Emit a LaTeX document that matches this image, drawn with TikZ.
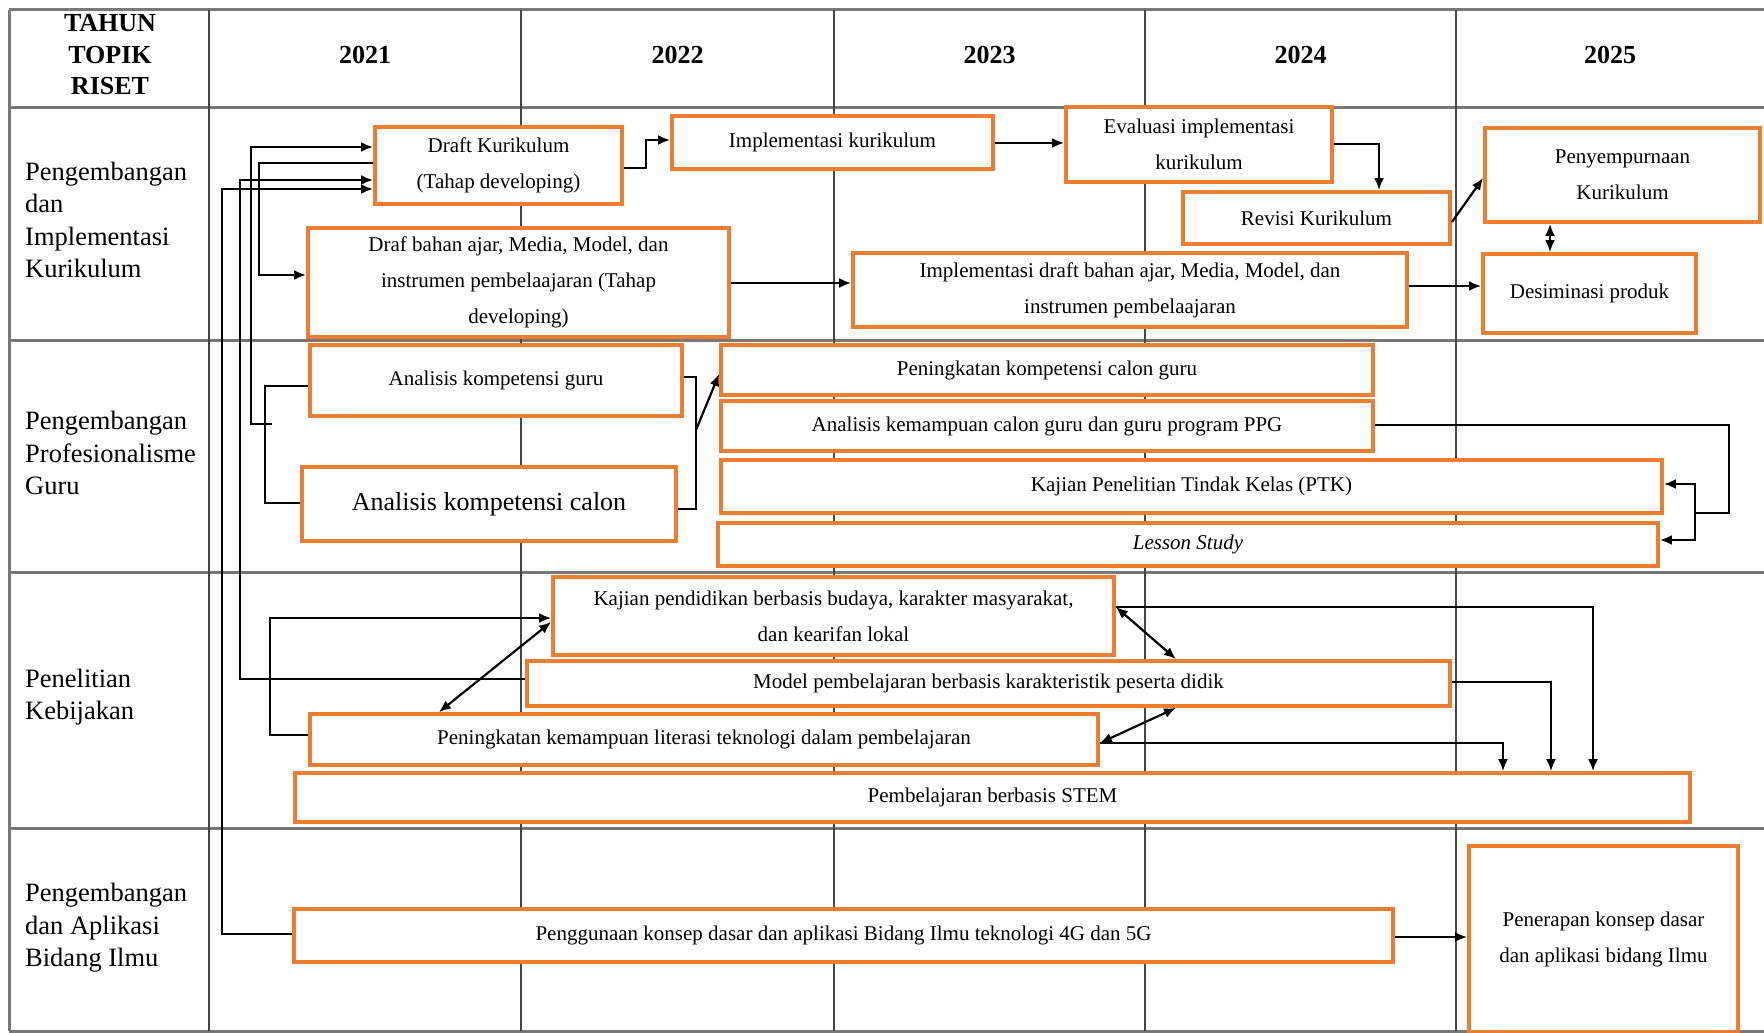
\documentclass[tikz,border=0pt]{standalone}
\usepackage{fontspec}
\setmainfont{Liberation Serif}
\usetikzlibrary{arrows.meta}

\definecolor{boxorange}{RGB}{237,125,49}
\definecolor{rulegray}{RGB}{120,120,120}
\definecolor{colgray}{RGB}{70,70,70}

\tikzset{
  obox/.style={draw=boxorange, line width=3.8pt, fill=white, align=center,
    inner sep=0pt, font=\fontsize{21}{36}\selectfont},
  link/.style={draw=black, line width=2.2pt},
  arr/.style={link, -{Latex[length=12pt,width=10pt]}},
  darr/.style={link, {Latex[length=12pt,width=10pt]}-{Latex[length=12pt,width=10pt]}},
  rowlabel/.style={anchor=west, align=left, inner sep=0pt,
    font=\fontsize{26.5}{32.5}\selectfont},
  headlabel/.style={align=center, inner sep=0pt,
    font=\bfseries\fontsize{26}{31.5}\selectfont},
  hrule/.style={draw=rulegray, line width=3pt},
  vrule/.style={draw=colgray, line width=1.5pt},
}

% box from its corners: [options]{name}{x1}{y1}{x2}{y2}{text}
\newcommand\mkbox[7][]{%
  \node[obox,#1,minimum width={#5-#3},minimum height={#6-#4}]
    (#2) at ({(#3+#5)/2},{(#4+#6)/2}) {#7};}

\begin{document}
\begin{tikzpicture}[x=1pt,y=-1pt]
\useasboundingbox (0,0) rectangle (1764,1033);
\fill[white] (0,0) rectangle (1764,1033);

% table rules
\foreach \yy in {10,107,340,572,828,1031}
  \draw[hrule] (9,\yy) -- (1764,\yy);
\draw[hrule] (9,10) -- (9,1031);
\foreach \xx in {209,521,834,1145,1456}
  \draw[vrule] (\xx,10) -- (\xx,1031);

% header
\node[headlabel] (hd) at (110,55) {TAHUN\\TOPIK\\RISET};
\node[headlabel] (y1) at (365,55) {2021};
\node[headlabel] (y2) at (677.5,55) {2022};
\node[headlabel] (y3) at (989.5,55) {2023};
\node[headlabel] (y4) at (1300.5,55) {2024};
\node[headlabel] (y5) at (1610,55) {2025};

% topic labels
\node[rowlabel] (r1) at (25,220) {Pengembangan\\dan\\Implementasi\\Kurikulum};
\node[rowlabel] (r2) at (25,453) {Pengembangan\\Profesionalisme\\Guru};
\node[rowlabel] (r3) at (25,697) {Penelitian\\Kebijakan};
\node[rowlabel] (r4) at (25,928) {Pengembangan\\dan Aplikasi\\Bidang Ilmu};

% curriculum row
\mkbox{dk}{375}{127}{622}{204}{Draft Kurikulum\\(Tahap developing)}
\mkbox{ik}{672}{116}{993}{169}{Implementasi kurikulum}
\mkbox{ev}{1066}{107}{1332}{182}{Evaluasi implementasi\\kurikulum}
\mkbox{rv}{1183}{192}{1450}{244}{Revisi Kurikulum}
\mkbox{pk}{1485}{128}{1760}{222}{Penyempurnaan\\Kurikulum}
\mkbox{dp}{1483}{254}{1696}{333}{Desiminasi produk}
\mkbox{db}{308}{228}{729}{337}{Draf bahan ajar, Media, Model, dan\\instrumen pembelaajaran (Tahap\\developing)}
\mkbox{id}{853}{253}{1407}{327}{Implementasi draft bahan ajar, Media, Model, dan\\instrumen pembelaajaran}

% teacher professionalism row
\mkbox{ag}{310}{345}{682}{416}{Analisis kompetensi guru}
\mkbox[font=\fontsize{26}{36}\selectfont]{ac}{302}{467}{676}{541}{Analisis kompetensi calon}
\mkbox{pc}{721}{345}{1373}{395}{Peningkatan kompetensi calon guru}
\mkbox{ak}{721}{401}{1373}{451}{Analisis kemampuan calon guru dan guru program PPG}
\mkbox{ptk}{721}{460}{1662}{513}{Kajian Penelitian Tindak Kelas (PTK)}
\mkbox{ls}{718}{523}{1658}{566}{\textit{Lesson Study}}

% policy research row
\mkbox{kp}{553}{577}{1114}{655}{Kajian pendidikan berbasis budaya, karakter masyarakat,\\dan kearifan lokal}
\mkbox{mp}{527}{661}{1450}{706}{Model pembelajaran berbasis karakteristik peserta didik}
\mkbox{pl}{310}{714}{1098}{765}{Peningkatan kemampuan literasi teknologi dalam pembelajaran}
\mkbox{st}{295}{773}{1690}{822}{Pembelajaran berbasis STEM}

% applied science row
\mkbox{pg}{294}{909}{1393}{962}{Penggunaan konsep dasar dan aplikasi Bidang Ilmu teknologi 4G dan 5G}
\mkbox{pn}{1469}{846}{1738}{1032}{Penerapan konsep dasar\\dan aplikasi bidang Ilmu}

% feedback bus into the curriculum draft
\draw[link] (ag.west |- 0,386) -| (265,503) -- (ac.west |- 0,503);
\draw[arr] (272,424) -| (251,147) -- (dk.west |- 0,147);
\draw[arr] (dk.west |- 0,163) -| (259,275) -- (db.west |- 0,275);
\draw[arr] (mp.west |- 0,679) -| (240,180) -- (dk.west |- 0,180);
\draw[arr] (pg.west |- 0,934) -| (222,189) -- (dk.west |- 0,189);

% curriculum flow
\draw[arr] (dk.east |- 0,168) -| (646,140) -- (ik.west |- 0,140);
\draw[arr] (ik.east |- 0,143) -- (ev.west |- 0,143);
\draw[arr] (ev.east |- 0,144) -| (rv.north -| 1379,0);
\draw[arr] (rv.east |- 0,222) -- (pk.west |- 0,178);
\draw[darr] (pk.south -| 1550,0) -- (dp.north -| 1550,0);
\draw[arr] (db.east |- 0,283) -- (id.west |- 0,283);
\draw[arr] (id.east |- 0,286) -- (dp.west |- 0,286);

% professionalism flow
\draw[link] (ag.east |- 0,377) -| (696,509) -- (ac.east |- 0,509);
\draw[arr] (696,430) -- (pc.west |- 0,374);
\draw[link] (ak.east |- 0,425) -| (1729,513) -- (1695,513);
\draw[arr] (1695,513) |- (ptk.east |- 0,484);
\draw[arr] (1695,513) |- (ls.east |- 0,540);

% policy flow
\draw[arr] (pl.west |- 0,735) -| (270,618) -- (kp.west |- 0,618);
\draw[darr] (kp.west |- 0,622) -- (pl.north -| 439,0);
\draw[darr] (kp.east |- 0,607) -- (mp.north -| 1176,0);
\draw[darr] (mp.south -| 1176,0) -- (pl.east |- 0,743);
\draw[arr] (kp.east |- 0,607) -| (st.north -| 1593,0);
\draw[arr] (mp.east |- 0,682) -| (st.north -| 1551,0);
\draw[arr] (pl.east |- 0,743) -| (st.north -| 1503,0);

% applied science flow
\draw[arr] (pg.east |- 0,937) -- (pn.west |- 0,937);
\end{tikzpicture}
\end{document}
